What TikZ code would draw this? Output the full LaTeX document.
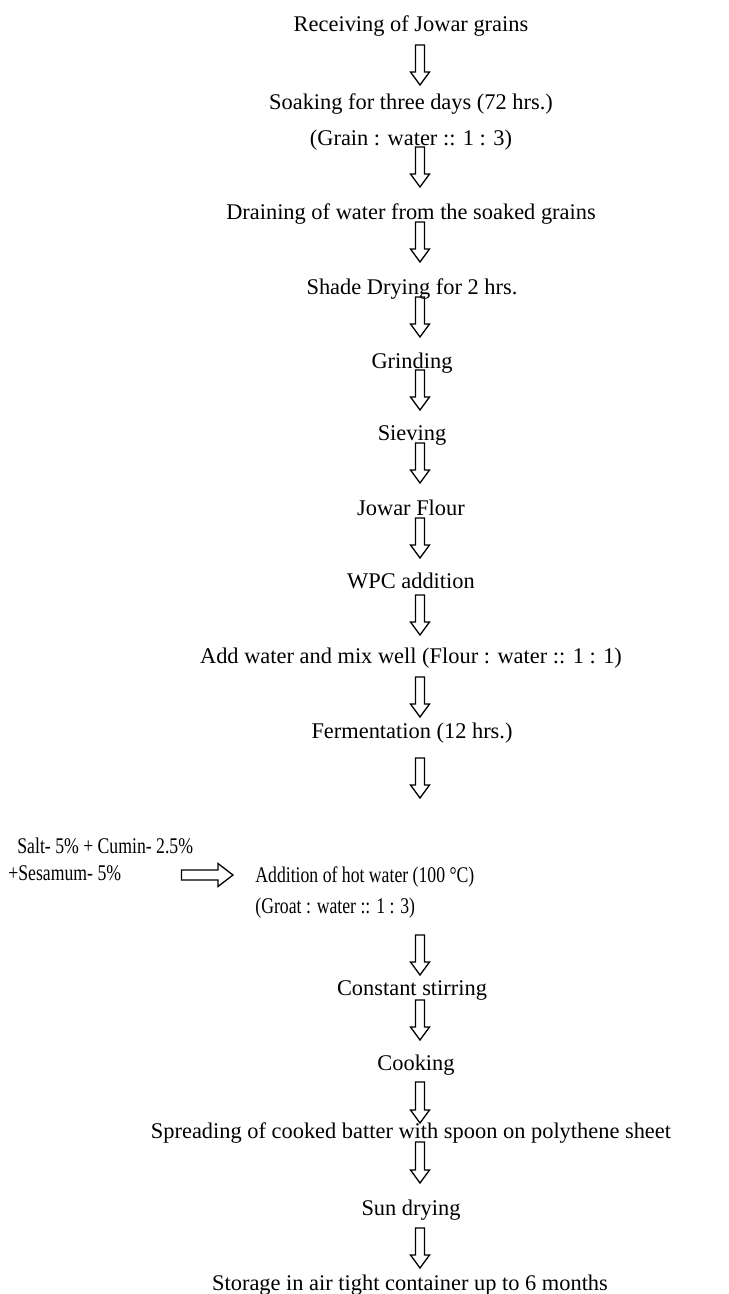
\documentclass[tikz,border=0pt]{standalone}
\usepackage{fontspec}
\setmainfont{Liberation Serif}
\usepackage{graphicx}
\usetikzlibrary{calc}
\newcommand{\cnd}[1]{\scalebox{0.79}[1]{#1}}
\begin{document}
\begin{tikzpicture}[x=0.5pt,y=-0.5pt,
  lbl/.style={inner sep=0pt, anchor=base, font=\fontsize{11.2pt}{13pt}\selectfont},
  lblw/.style={lbl, anchor=base west},
  hollowdown/.style={draw=black, line width=0.65pt, line join=miter, to path={
    let \p1=(\tikztostart), \p2=(\tikztotarget) in
    ({\x1-2.25pt},\y1) -- ({\x1+2.25pt},\y1) -- ({\x1+2.25pt},{\y2+6.5pt}) -- ({\x1+4.75pt},{\y2+6.5pt}) -- (\x1,\y2) -- ({\x1-4.75pt},{\y2+6.5pt}) -- ({\x1-2.25pt},{\y2+6.5pt}) -- cycle}},
  hollowright/.style={draw=black, line width=0.65pt, line join=miter, to path={
    let \p1=(\tikztostart), \p2=(\tikztotarget) in
    (\x1,{\y1+2.5pt}) -- ({\x2-7.5pt},{\y1+2.5pt}) -- ({\x2-7.5pt},{\y1+5.75pt}) -- (\x2,\y1) -- ({\x2-7.5pt},{\y1-5.75pt}) -- ({\x2-7.5pt},{\y1-2.5pt}) -- (\x1,{\y1-2.5pt}) -- cycle}}
]
\useasboundingbox (0,0) rectangle (728,1294);
\coordinate (ax) at (420,0);

\node[lbl] (n1) at (411,32) {Receiving of Jowar grains};
\node[lbl] (n2) at (411,110) {Soaking for three days (72 hrs.)};
\node[lbl] (n2b) at (411,146) {(Grain : water :: 1 : 3)};
\node[lbl] (n3) at (411,220) {Draining of water from the soaked grains};
\node[lbl] (n4) at (412,295) {Shade Drying for 2 hrs.};
\node[lbl] (n5) at (412,368) {Grinding};
\node[lbl] (n6) at (412,440) {Sieving};
\node[lbl] (n7) at (411,515) {Jowar Flour};
\node[lbl] (n8) at (411,588) {WPC addition};
\node[lbl] (n9) at (411,663) {Add water and mix well (Flour : water :: 1 : 1)};
\node[lbl] (n10) at (412,738) {Fermentation (12 hrs.)};
\node[lblw] (salt) at (17,853) {\cnd{Salt- 5\% + Cumin- 2.5\%}};
\node[lblw] (ses) at (8,880) {\cnd{+Sesamum- 5\%}};
\node[lblw] (n11) at (255,882) {\cnd{Addition of hot water (100 °C)}};
\node[lblw] (n11b) at (255,913) {\cnd{(Groat : water :: 1 : 3)}};
\node[lbl] (n12) at (412,995) {Constant stirring};
\node[lbl] (n13) at (416,1070) {Cooking};
\node[lbl] (n14) at (411,1138) {Spreading of cooked batter with spoon on polythene sheet};
\node[lbl] (n15) at (411,1215) {Sun drying};
\node[lbl] (n16) at (410,1290) {Storage in air tight container up to 6 months};

\draw[hollowdown] ($(n1.base -| ax)+(0,13)$) to ($(n2.base -| ax)+(0,-25)$);
\draw[hollowdown] ($(n2b.base -| ax)+(0,1)$) to ($(n3.base -| ax)+(0,-33)$);
\draw[hollowdown] ($(n3.base -| ax)+(0,2)$) to ($(n4.base -| ax)+(0,-33)$);
\draw[hollowdown] ($(n4.base -| ax)+(0,2)$) to ($(n5.base -| ax)+(0,-31)$);
\draw[hollowdown] ($(n5.base -| ax)+(0,2)$) to ($(n6.base -| ax)+(0,-30)$);
\draw[hollowdown] ($(n6.base -| ax)+(0,3)$) to ($(n7.base -| ax)+(0,-32)$);
\draw[hollowdown] ($(n7.base -| ax)+(0,3)$) to ($(n8.base -| ax)+(0,-30)$);
\draw[hollowdown] ($(n8.base -| ax)+(0,7)$) to ($(n9.base -| ax)+(0,-28)$);
\draw[hollowdown] ($(n9.base -| ax)+(0,14)$) to ($(n10.base -| ax)+(0,-21)$);
\draw[hollowdown] ($(n10.base -| ax)+(0,20)$) to ($(n11.base -| ax)+(0,-84)$);
\draw[hollowright] ($(ses.base east)+(60,-5)$) to ($(n11.base west)+(-22,-5)$);
\draw[hollowdown] ($(n11b.base -| ax)+(0,22)$) to ($(n12.base -| ax)+(0,-20)$);
\draw[hollowdown] ($(n12.base -| ax)+(0,5)$) to ($(n13.base -| ax)+(0,-30)$);
\draw[hollowdown] ($(n13.base -| ax)+(0,12)$) to ($(n14.base -| ax)+(0,-15)$);
\draw[hollowdown] ($(n14.base -| ax)+(0,4)$) to ($(n15.base -| ax)+(0,-32)$);
\draw[hollowdown] ($(n15.base -| ax)+(0,13)$) to ($(n16.base -| ax)+(0,-22)$);
\end{tikzpicture}
\end{document}
